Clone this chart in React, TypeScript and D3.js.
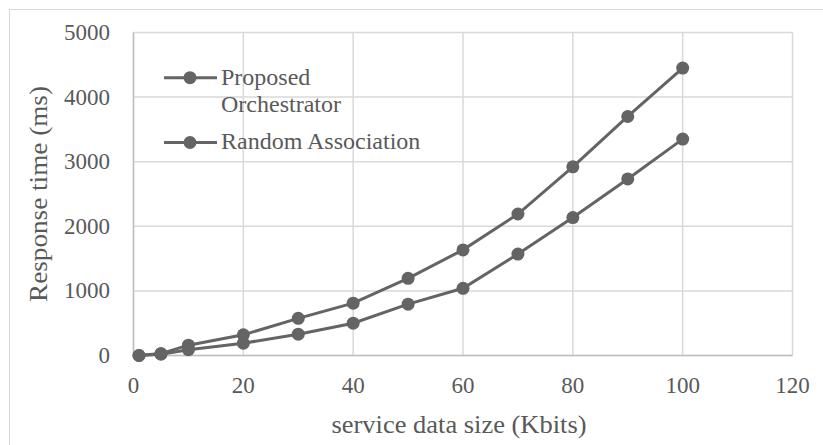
import React from "react";
import * as d3 from "d3";

const xValues = [1, 5, 10, 20, 30, 40, 50, 60, 70, 80, 90, 100];
const proposedOrchestrator = [0, 30, 160, 320, 575, 810, 1195, 1635, 2190, 2920, 3700, 4450];
const randomAssociation = [0, 20, 90, 190, 330, 500, 795, 1040, 1570, 2135, 2733, 3350];
const seriesNames = ["Proposed\nOrchestrator", "Random Association"];
const xTicks = [0, 20, 40, 60, 80, 100, 120];
const yTicks = [0, 1000, 2000, 3000, 4000, 5000];

const W = 823;
const H = 445;
const plot = { left: 133.5, right: 792.5, top: 32.5, bottom: 355.5 };
const FONT = "'Liberation Serif', serif";
const LINE = "#646464";
const TEXT = "#595959";

export default function App() {
  const x = d3.scaleLinear().domain([0, 120]).range([plot.left, plot.right]);
  const y = d3.scaleLinear().domain([0, 5000]).range([plot.bottom, plot.top]);
  const line = d3
    .line<number>()
    .x((_, i) => x(xValues[i]))
    .y((d) => y(d));
  const series = [proposedOrchestrator, randomAssociation];
  const legendY = [77.7, 142.5];

  return (
    <svg
      width={W}
      height={H}
      style={{ position: "absolute", left: 0, top: 0, background: "#fff" }}
      fontFamily={FONT}
    >
      <rect x={9.5} y={9.5} width={830} height={460} fill="#fff" stroke="#d9d9d9" />
      {/* gridlines */}
      {yTicks.map((t) => (
        <line key={"gy" + t} x1={plot.left} x2={plot.right} y1={y(t)} y2={y(t)} stroke="#d9d9d9" strokeWidth={1.5} />
      ))}
      {xTicks.map((t) => (
        <line key={"gx" + t} x1={x(t)} x2={x(t)} y1={plot.top} y2={plot.bottom} stroke="#d9d9d9" strokeWidth={1.5} />
      ))}
      {/* axes */}
      <line x1={plot.left} x2={plot.left} y1={plot.top} y2={plot.bottom} stroke="#bfbfbf" strokeWidth={1.5} />
      <line x1={plot.left} x2={plot.right} y1={plot.bottom} y2={plot.bottom} stroke="#bfbfbf" strokeWidth={1.5} />
      {/* tick labels */}
      {yTicks.map((t) => (
        <text key={"ty" + t} x={110} y={y(t) + 7.5} textAnchor="end" fontSize={23} fill={TEXT}>
          {t}
        </text>
      ))}
      {xTicks.map((t) => (
        <text key={"tx" + t} x={x(t)} y={393} textAnchor="middle" fontSize={23} fill={TEXT}>
          {t}
        </text>
      ))}
      {/* axis titles */}
      <text x={459} y={433} textAnchor="middle" fontSize={26} fill={TEXT} textLength={255} lengthAdjust="spacingAndGlyphs">
        service data size (Kbits)
      </text>
      <text
        transform={`translate(47, ${(plot.top + plot.bottom) / 2}) rotate(-90)`}
        textAnchor="middle"
        fontSize={26}
        fill={TEXT}
        textLength={216}
        lengthAdjust="spacingAndGlyphs"
      >
        Response time (ms)
      </text>
      {/* series */}
      {series.map((s, si) => (
        <g key={"s" + si}>
          <path d={line(s) || ""} fill="none" stroke={LINE} strokeWidth={3} />
          {s.map((v, i) => (
            <circle key={i} cx={x(xValues[i])} cy={y(v)} r={6.5} fill={LINE} />
          ))}
        </g>
      ))}
      {/* legend */}
      {seriesNames.map((name, i) => (
        <g key={"l" + i}>
          <line x1={164} x2={217} y1={legendY[i]} y2={legendY[i]} stroke={LINE} strokeWidth={3} />
          <circle cx={190} cy={legendY[i]} r={6.5} fill={LINE} />
          {name.split("\n").map((ln, j) => (
            <text key={j} x={221} y={legendY[i] + 6.8 + j * 27.4} fontSize={24} fill={TEXT}>
              {ln}
            </text>
          ))}
        </g>
      ))}
    </svg>
  );
}
